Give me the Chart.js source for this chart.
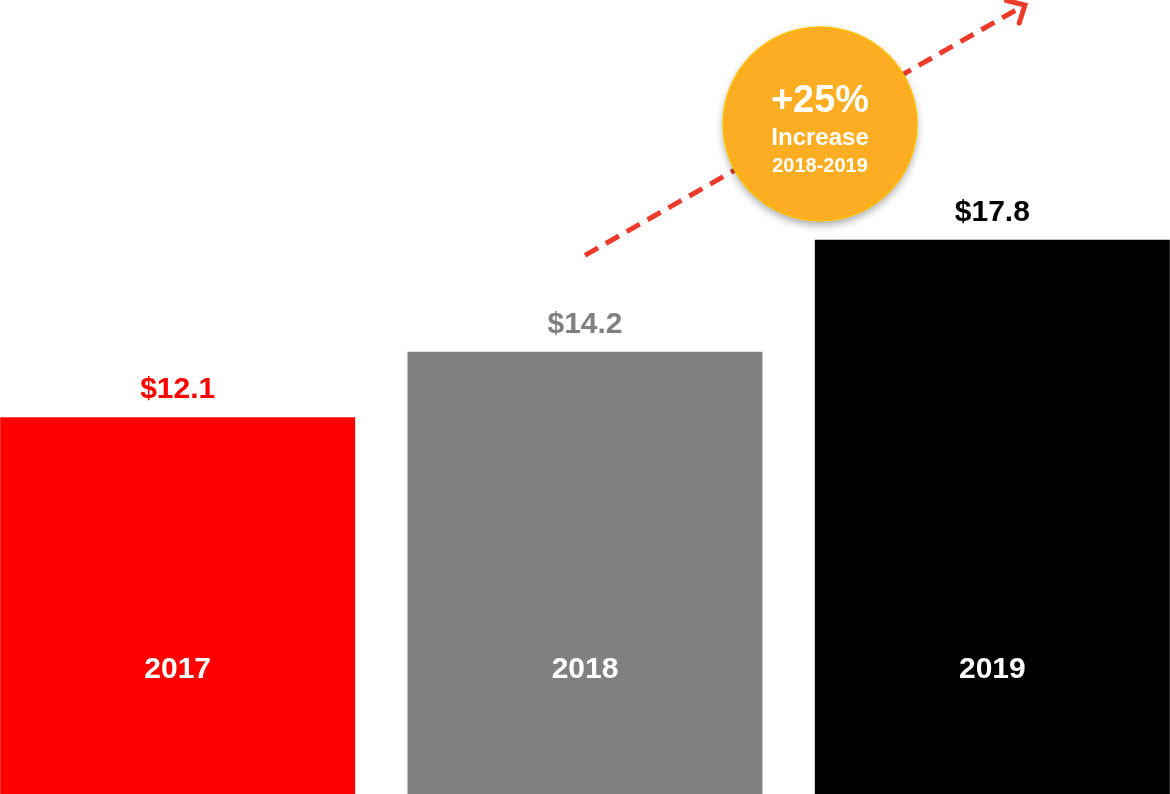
<!DOCTYPE html>
<html>
<head>
<meta charset="utf-8">
<script src="https://cdn.jsdelivr.net/npm/chart.js@4/dist/chart.umd.min.js"></script>
<style>
html,body{margin:0;padding:0;background:#fff;overflow:hidden;width:1170px;height:794px;}
#wrap{position:absolute;left:-26px;top:0;width:1222px;height:794px;}
</style>
</head>
<body>
<div id="wrap"><canvas id="c"></canvas></div>
<script>
const categories = ['2017', '2018', '2019'];
const values = [12.1, 14.2, 17.8];
const valueLabels = ['$12.1', '$14.2', '$17.8'];
const barColors = ['#FF0000', '#808080', '#000000'];
const badgeLines = ['+25%', 'Increase', '2018-2019'];

const FONT = "'Liberation Sans', Arial, sans-serif";

const overlay = {
  id: 'overlay',
  afterDatasetsDraw(chart) {
    const ctx = chart.ctx;
    const xs = chart.scales.x, ys = chart.scales.y;
    const meta = chart.getDatasetMeta(0);
    const step = xs.getPixelForValue(1) - xs.getPixelForValue(0);
    const px = v => { const i = Math.floor(v); return xs.getPixelForValue(i) + (v - i) * step; };

    // labels
    meta.data.forEach((bar, i) => {
      ctx.save();
      ctx.textAlign = 'center';
      ctx.textBaseline = 'alphabetic';
      ctx.font = 'bold 30px ' + FONT;
      ctx.fillStyle = barColors[i];
      ctx.fillText(valueLabels[i], bar.x, bar.y - 19);
      ctx.fillStyle = '#FFFFFF';
      ctx.fillText(categories[i], bar.x, ys.getPixelForValue(3.72));
      ctx.restore();
    });

    // dashed arrow
    const x1 = px(1.0), y1 = ys.getPixelForValue(17.3);
    const x2 = px(2.08), y2 = ys.getPixelForValue(25.34);
    const ang = Math.atan2(y2 - y1, x2 - x1);
    ctx.save();
    ctx.strokeStyle = '#EC3A2B';
    ctx.lineWidth = 5;
    ctx.setLineDash([15, 9]);
    ctx.beginPath();
    ctx.moveTo(x1, y1);
    ctx.lineTo(x2 - 4 * Math.cos(ang), y2 - 4 * Math.sin(ang));
    ctx.stroke();
    ctx.setLineDash([]);
    ctx.lineJoin = 'miter';
    ctx.lineCap = 'round';
    const hl = 19;
    ctx.beginPath();
    ctx.moveTo(x2 - hl * Math.cos(ang - 0.75), y2 - hl * Math.sin(ang - 0.75));
    ctx.lineTo(x2, y2);
    ctx.lineTo(x2 - hl * Math.cos(ang + 0.75), y2 - hl * Math.sin(ang + 0.75));
    ctx.stroke();
    ctx.restore();

    // badge circle
    const cx = px(1.577), cy = ys.getPixelForValue(21.52);
    const r = step * 0.238;
    ctx.save();
    ctx.shadowColor = 'rgba(0,0,0,0.35)';
    ctx.shadowBlur = 8;
    ctx.shadowOffsetY = 4;
    ctx.beginPath();
    ctx.arc(cx, cy, r, 0, Math.PI * 2);
    ctx.fillStyle = '#FCAD22';
    ctx.fill();
    ctx.shadowColor = 'transparent';
    ctx.lineWidth = 1.5;
    ctx.strokeStyle = '#FFC000';
    ctx.stroke();
    ctx.fillStyle = '#FFFFFF';
    ctx.textAlign = 'center';
    ctx.textBaseline = 'alphabetic';
    ctx.font = 'bold 38px ' + FONT;
    ctx.fillText(badgeLines[0], cx, cy - 12);
    ctx.font = 'bold 24px ' + FONT;
    ctx.fillText(badgeLines[1], cx, cy + 21);
    ctx.font = 'bold 20px ' + FONT;
    ctx.fillText(badgeLines[2], cx, cy + 48);
    ctx.restore();
  }
};

new Chart(document.getElementById('c'), {
  type: 'bar',
  data: {
    labels: categories,
    datasets: [{
      data: values,
      backgroundColor: barColors,
      borderWidth: 0,
      barPercentage: 0.8715,
      categoryPercentage: 1.0
    }]
  },
  options: {
    responsive: true,
    maintainAspectRatio: false,
    animation: false,
    layout: { padding: 0 },
    plugins: { legend: { display: false }, tooltip: { enabled: false } },
    scales: {
      x: { display: false, offset: true },
      y: { display: false, min: 0, max: 25.5 }
    }
  },
  plugins: [overlay]
});
</script>
</body>
</html>
